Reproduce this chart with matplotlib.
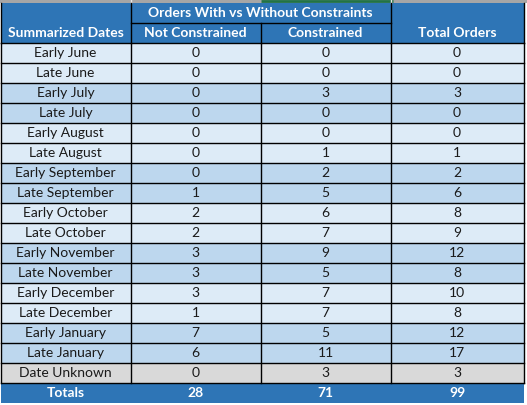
import matplotlib
matplotlib.use("Agg")
import matplotlib.pyplot as plt
from matplotlib.patches import Rectangle

# table data
dates = ["Early June", "Late June", "Early July", "Late July", "Early August",
         "Late August", "Early September", "Late September", "Early October",
         "Late October", "Early November", "Late November", "Early December",
         "Late December", "Early January", "Late January", "Date Unknown"]
not_constrained = [0, 0, 0, 0, 0, 0, 0, 1, 2, 2, 3, 3, 3, 1, 7, 6, 0]
constrained = [0, 0, 3, 0, 0, 1, 2, 5, 6, 7, 9, 5, 7, 7, 5, 11, 3]
total_orders = [0, 0, 3, 0, 0, 1, 2, 6, 8, 9, 12, 8, 10, 8, 12, 17, 3]
totals = ["Totals", 28, 71, 99]

group_header = "Orders With vs Without Constraints"
col_headers = ["Summarized Dates", "Not Constrained", "Constrained", "Total Orders"]

blue = "#2E75B6"
light = "#DDEBF7"
dark = "#BDD7EE"
gray = "#D9D9D9"
txt = "#1a1a1a"

plt.rcParams['font.family'] = ['Lato', 'DejaVu Sans']

fig = plt.figure(figsize=(5.27, 4.05), dpi=100)
ax = fig.add_axes([0, 0, 1, 1])
ax.set_xlim(0, 527)
ax.set_ylim(405, 0)
ax.axis("off")

xs = [0.5, 130.5, 260.5, 390.5, 523.5]
top = 2.5
h1 = 22.7
h2 = 42.7
rh = 20

# excel strip at the very top
ax.add_patch(Rectangle((0, 0), 527, top, color="#A6A6A6", lw=0))
ax.plot([261, 393], [1, 1], color="#217346", lw=2, solid_capstyle="butt")
for x in [130.5, 390.5]:
    ax.plot([x, x], [0, top], color="#E8E8E8", lw=1)

# header block
ax.add_patch(Rectangle((xs[0], top), xs[-1] - xs[0], h2 - top, color=blue, lw=0))
ax.text((xs[1] + xs[3]) / 2, (top + h1) / 2 + 0.5, group_header, color="white",
        fontsize=10, fontweight="bold", ha="center", va="center")
for i, lab in enumerate(col_headers):
    ax.text((xs[i] + xs[i + 1]) / 2, (h1 + h2) / 2 + 0.5, lab, color="white",
            fontsize=10, fontweight="bold", ha="center", va="center")
ax.plot([xs[1], xs[3]], [h1, h1], color="black", lw=1)
for x in [xs[1], xs[3]]:
    ax.plot([x, x], [top, h2], color="black", lw=1)
ax.plot([xs[2], xs[2]], [h1, h2], color="black", lw=1)

# body rows
n = len(dates)
for r in range(n):
    y0 = h2 + r * rh
    if dates[r] == "Date Unknown":
        bg = gray
    else:
        bg = light if (r // 2) % 2 == 0 else dark
    ax.add_patch(Rectangle((xs[0], y0), xs[-1] - xs[0], rh, color=bg, lw=0))
    vals = [dates[r], not_constrained[r], constrained[r], total_orders[r]]
    for c, v in enumerate(vals):
        ax.text((xs[c] + xs[c + 1]) / 2, y0 + rh / 2 + 0.5, str(v), color=txt,
                fontsize=10, ha="center", va="center")
    ax.plot([xs[0], xs[-1]], [y0, y0], color="black", lw=1)

body_end = h2 + n * rh
ax.plot([xs[0], xs[-1]], [body_end, body_end], color="black", lw=1)
for x in xs:
    ax.plot([x, x], [h2, body_end], color="black", lw=1)
ax.plot([xs[0], xs[0]], [top, h2], color="black", lw=1)
ax.plot([xs[-1], xs[-1]], [top, h2], color="black", lw=1)

# totals row
ax.add_patch(Rectangle((xs[0], body_end), xs[-1] - xs[0], rh, color=blue, lw=0))
for c, v in enumerate(totals):
    ax.text((xs[c] + xs[c + 1]) / 2, body_end + rh / 2 + 0.5, str(v), color="white",
            fontsize=10, fontweight="bold", ha="center", va="center")

fig.savefig("out.png", dpi=100)
